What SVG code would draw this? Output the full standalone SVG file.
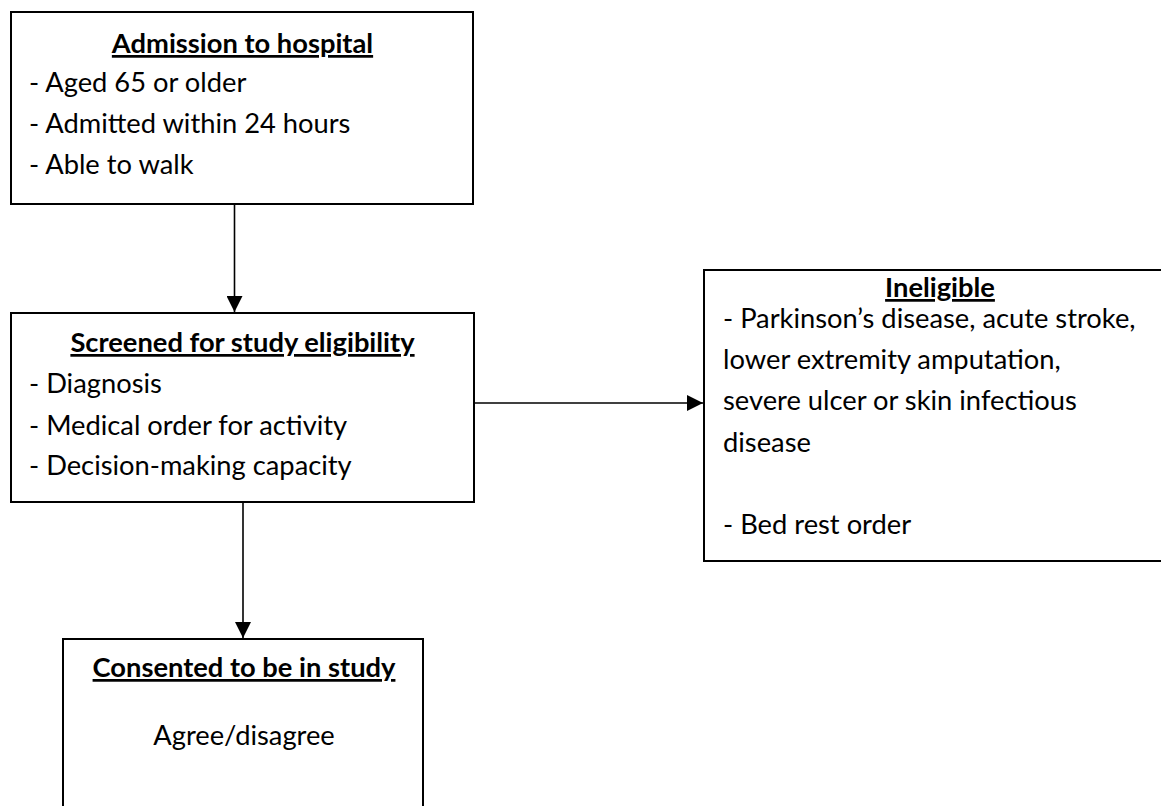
<svg xmlns="http://www.w3.org/2000/svg" width="1161" height="806" viewBox="0 0 1161 806">
  <style>
    .box { fill: #ffffff; stroke: #000000; stroke-width: 2; }
    .link { fill: none; stroke: #000000; stroke-width: 1.6; }
    text { font-family: Lato, "Open Sans", "Liberation Sans", sans-serif; font-size: 27.3px; fill: #000000; }
    .head { font-weight: bold; text-anchor: middle; text-decoration: underline; }
    .mid { text-anchor: middle; }
  </style>
  <defs>
    <marker id="arrow" markerUnits="userSpaceOnUse" markerWidth="16" markerHeight="16" refX="16" refY="8" orient="auto">
      <path d="M0,0 L16,8 L0,16 Z" fill="#000000"/>
    </marker>
  </defs>

  <rect width="1161" height="806" fill="#ffffff"/>

  <!-- connectors -->
  <g id="connectors">
    <line class="link" x1="234.5" y1="205" x2="234.5" y2="312" marker-end="url(#arrow)"/>
    <line class="link" x1="475" y1="403" x2="703" y2="403" marker-end="url(#arrow)"/>
    <line class="link" x1="243" y1="503" x2="243" y2="638" marker-end="url(#arrow)"/>
  </g>

  <!-- admission -->
  <g id="admission">
    <rect class="box" x="11" y="12" width="462" height="192"/>
    <text class="head" x="242.5" y="53">Admission to hospital</text>
    <text x="29" y="92">- Aged 65 or older</text>
    <text x="29" y="133">- Admitted within 24 hours</text>
    <text x="29" y="174">- Able to walk</text>
  </g>

  <!-- screening -->
  <g id="screening">
    <rect class="box" x="11" y="313" width="463" height="189"/>
    <text class="head" x="242.5" y="352">Screened for study eligibility</text>
    <text x="29" y="393">- Diagnosis</text>
    <text x="29" y="435">- Medical order for activity</text>
    <text x="29" y="475">- Decision-making capacity</text>
  </g>

  <!-- ineligible -->
  <g id="ineligible">
    <rect class="box" x="704" y="270" width="470" height="291"/>
    <text class="head" x="940" y="297">Ineligible</text>
    <text x="723" y="328">- Parkinson’s disease, acute stroke,</text>
    <text x="723" y="369">lower extremity amputation,</text>
    <text x="723" y="410">severe ulcer or skin infectious</text>
    <text x="723" y="452">disease</text>
    <text x="723" y="534">- Bed rest order</text>
  </g>

  <!-- consent -->
  <g id="consent">
    <rect class="box" x="63" y="639" width="360" height="200"/>
    <text class="head" x="244" y="677">Consented to be in study</text>
    <text class="mid" x="244" y="745">Agree/disagree</text>
  </g>
</svg>
